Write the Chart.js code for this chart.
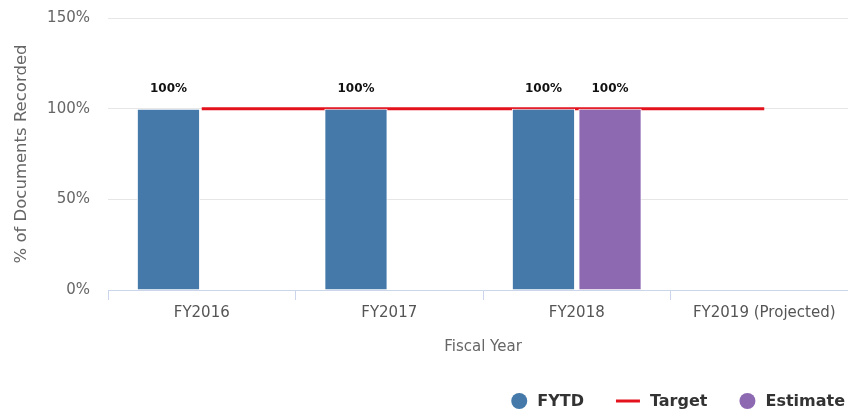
<!DOCTYPE html>
<html>
<head>
<meta charset="utf-8">
<script src="https://cdn.jsdelivr.net/npm/chart.js@4.4.1/dist/chart.umd.min.js"></script>
<style>
  body { margin: 0; overflow: hidden; background: #fff; }
  #wrap { width: 860px; height: 412px; overflow: hidden; }
  #docsChart { display: block; margin-top: -9px; }
</style>
</head>
<body>
<div id="wrap"><canvas id="docsChart" width="860" height="421"></canvas></div>
<script>
// Chart data
const categories = ['FY2016', 'FY2017', 'FY2018', 'FY2019 (Projected)'];
const fytdValues = [100, 100, 100, null];
const estimateValues = [null, null, 100, null];
const targetValues = [100, 100, 100, 100];
const yTicks = [0, 50, 100, 150];

const FONT = '"DejaVu Sans", sans-serif';
const BLUE = '#4479aa';
const PURPLE = '#8d69b2';
const RED = '#e3121c';

// "100%" labels above each bar
const barLabels = {
    id: 'barLabels',
    afterDatasetsDraw(chart) {
        const ctx = chart.ctx;
        ctx.save();
        ctx.font = 'bold 12px ' + FONT;
        ctx.fillStyle = '#111';
        ctx.textAlign = 'center';
        ctx.textBaseline = 'bottom';
        chart.data.datasets.forEach((ds, i) => {
            if (ds.type !== 'bar') return;
            chart.getDatasetMeta(i).data.forEach((bar, j) => {
                const v = ds.data[j];
                if (v === null || v === undefined) return;
                ctx.fillText(v + '%', bar.x, bar.y - 14);
            });
        });
        ctx.restore();
    }
};

// Legend at bottom right, drawn by hand (canvas is shifted up 9px)
const bottomLegend = {
    id: 'bottomLegend',
    afterDraw(chart) {
        const ctx = chart.ctx;
        const items = [
            { text: 'FYTD', color: BLUE, kind: 'dot' },
            { text: 'Target', color: RED, kind: 'line' },
            { text: 'Estimate', color: PURPLE, kind: 'dot' }
        ];
        ctx.save();
        ctx.font = 'bold 16px ' + FONT;
        const y = 410;
        let total = 0;
        items.forEach(it => {
            it.mw = it.kind === 'dot' ? 16 : 24;
            it.tw = ctx.measureText(it.text).width;
            it.w = it.mw + 10 + it.tw;
            total += it.w;
        });
        total += 32 * (items.length - 1);
        let x = 845 - total;
        items.forEach(it => {
            if (it.kind === 'dot') {
                ctx.fillStyle = it.color;
                ctx.beginPath();
                ctx.arc(x + 8, y, 8, 0, Math.PI * 2);
                ctx.fill();
            } else {
                ctx.strokeStyle = it.color;
                ctx.lineWidth = 3;
                ctx.beginPath();
                ctx.moveTo(x, y);
                ctx.lineTo(x + 24, y);
                ctx.stroke();
            }
            ctx.fillStyle = '#333';
            ctx.textBaseline = 'middle';
            ctx.textAlign = 'left';
            ctx.fillText(it.text, x + it.mw + 10, y + 1);
            x += it.w + 32;
        });
        ctx.restore();
    }
};

const ctx = document.getElementById('docsChart').getContext('2d');
new Chart(ctx, {
    type: 'bar',
    data: {
        labels: categories,
        datasets: [
            {
                type: 'bar',
                label: 'FYTD',
                data: fytdValues,
                backgroundColor: BLUE,
                borderColor: '#fff',
                borderWidth: 1,
                barPercentage: 0.95,
                categoryPercentage: 0.71,
                order: 1
            },
            {
                type: 'bar',
                label: 'Estimate',
                data: estimateValues,
                backgroundColor: PURPLE,
                borderColor: '#fff',
                borderWidth: 1,
                barPercentage: 0.95,
                categoryPercentage: 0.71,
                order: 2
            },
            {
                type: 'line',
                label: 'Target',
                data: targetValues,
                borderColor: RED,
                borderWidth: 3,
                pointRadius: 0,
                fill: false,
                order: 3
            }
        ]
    },
    options: {
        responsive: false,
        animation: false,
        layout: { padding: { top: 8, right: 2, bottom: 52, left: 0 } },
        plugins: {
            legend: { display: false },
            tooltip: { enabled: false }
        },
        scales: {
            x: {
                grid: {
                    offset: true,
                    drawOnChartArea: false,
                    tickLength: 10,
                    color: '#ccd6eb'
                },
                border: { color: '#ccd6eb' },
                ticks: {
                    color: '#555',
                    font: { family: FONT, size: 15 },
                    padding: 4,
                    maxRotation: 0
                },
                title: {
                    display: true,
                    text: 'Fiscal Year',
                    color: '#666',
                    font: { family: FONT, size: 15 },
                    padding: { top: 4, bottom: 4 }
                },
                afterFit(scale) { scale.height = 70; }
            },
            y: {
                min: 0,
                max: 150,
                afterBuildTicks(scale) { scale.ticks = yTicks.map(v => ({ value: v })); },
                grid: { color: '#e6e6e6', drawTicks: false },
                border: { display: false },
                ticks: {
                    color: '#666',
                    font: { family: FONT, size: 15 },
                    padding: 18,
                    callback: v => v + '%'
                },
                title: {
                    display: true,
                    text: '% of Documents Recorded',
                    color: '#666',
                    font: { family: FONT, size: 16.5 },
                    padding: { top: 12, bottom: 4 }
                },
                afterFit(scale) { scale.width = 108; }
            }
        }
    },
    plugins: [barLabels, bottomLegend]
});
</script>
</body>
</html>
